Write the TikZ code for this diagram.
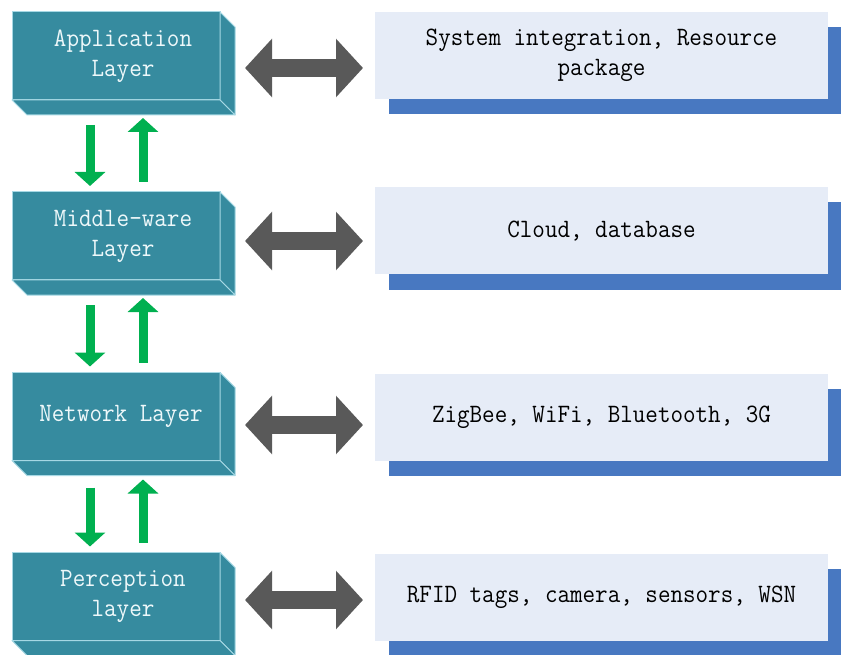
\documentclass[tikz,border=0pt]{standalone}
\usepackage{fontspec}
\newfontfamily\tallmono[FakeStretch=0.92]{Latin Modern Mono}
\usetikzlibrary{arrows.meta,calc}
\definecolor{teal1}{HTML}{368B9F}
\definecolor{tealedge}{HTML}{A6D8E4}
\definecolor{teltext}{HTML}{EEF8FA}
\definecolor{paleblue}{HTML}{E6ECF7}
\definecolor{shadowblue}{HTML}{4878C1}
\definecolor{arrgray}{HTML}{595959}
\definecolor{arrgreen}{HTML}{00B050}
\tikzset{
  front/.style={fill=teal1, draw=tealedge, line width=1pt, minimum width=208pt, minimum height=88pt, inner sep=0pt, outer sep=0pt},
  face/.style={fill=teal1, draw=tealedge, line width=1pt, line join=round},
  lbl/.style={text=teltext, align=center, font=\fontsize{26.5}{30}\selectfont\tallmono},
  info/.style={fill=paleblue, minimum width=453pt, minimum height=87pt, inner sep=0pt, outer sep=0pt, align=center, font=\fontsize{26.5}{30}\selectfont\tallmono, text=black},
  shadowbox/.style={fill=shadowblue},
  dbl/.style={draw=arrgray, line width=18pt, {Triangle[length=27pt,width=57pt]}-{Triangle[length=27pt,width=57pt]}},
  grn/.style={draw=arrgreen, line width=9pt, -{Triangle[length=14pt,width=30pt]}}
}
\newcommand{\layerfaces}[1]{%
  \path[face] (#1.north east) -- ++(15,15) -- ++(0,88) -- (#1.south east) -- cycle;
  \path[face] (#1.south west) -- (#1.south east) -- ++(15,15) -- ++(-208,0) -- cycle;
}
\begin{document}
\begin{tikzpicture}[x=1pt,y=-1pt]
\useasboundingbox (0,0) rectangle (841,655);
\fill[white] (0,0) rectangle (841,655);

% left layer boxes
\node[front] (app) at (116,56) {};
\layerfaces{app}
\node[lbl] (appt) at ($(app.center)+(7,0)$) {Application\\Layer};

\node[front] (mid) at (116,236) {};
\layerfaces{mid}
\node[lbl] (midt) at ($(mid.center)+(7,0)$) {Middle-ware\\Layer};

\node[front] (net) at (116,416.5) {};
\layerfaces{net}
\node[lbl] (nett) at ($(net.center)+(5,0)$) {Network Layer};

\node[front] (per) at (116,596.5) {};
\layerfaces{per}
\node[lbl] (pert) at ($(per.center)+(7,0)$) {Perception\\layer};

% right info boxes (shadow first)
\path (601.5,55.5) coordinate (c1) (601.5,231) coordinate (c2) (601.5,417) coordinate (c3) (601.5,597.5) coordinate (c4);
\fill[shadowbox] ($(c1)+(-212.5,-28.5)$) rectangle ($(c1)+(240.5,58.5)$);
\fill[shadowbox] ($(c2)+(-212.5,-28.5)$) rectangle ($(c2)+(240.5,58.5)$);
\fill[shadowbox] ($(c3)+(-212.5,-28.5)$) rectangle ($(c3)+(240.5,58.5)$);
\fill[shadowbox] ($(c4)+(-212.5,-28.5)$) rectangle ($(c4)+(240.5,58.5)$);
\node[info] (sys) at (c1) {System integration, Resource\\package};
\node[info] (cloud) at (c2) {Cloud, database};
\node[info] (zig) at (c3) {ZigBee, WiFi, Bluetooth, 3G};
\node[info] (rfid) at (c4) {RFID tags, camera, sensors, WSN};

% horizontal double arrows
\draw[dbl] ($(app.east)+(25,12)$) -- ($(app.east)+(143,12)$);
\draw[dbl] ($(mid.east)+(25,5)$) -- ($(mid.east)+(143,5)$);
\draw[dbl] ($(net.east)+(25,8.5)$) -- ($(net.east)+(143,8.5)$);
\draw[dbl] ($(per.east)+(25,3.5)$) -- ($(per.east)+(143,3.5)$);

% vertical green arrows
\draw[grn] ($(app.south)+(-26,25)$) -- ($(mid.north)+(-26,-6)$);
\draw[grn] ($(mid.north)+(27,-10)$) -- ($(app.south)+(27,18)$);
\draw[grn] ($(mid.south)+(-26,25)$) -- ($(net.north)+(-26,-6)$);
\draw[grn] ($(net.north)+(27,-10)$) -- ($(mid.south)+(27,18)$);
\draw[grn] ($(net.south)+(-26,27)$) -- ($(per.north)+(-26,-6)$);
\draw[grn] ($(per.north)+(27,-10)$) -- ($(net.south)+(27,19)$);
\end{tikzpicture}
\end{document}
